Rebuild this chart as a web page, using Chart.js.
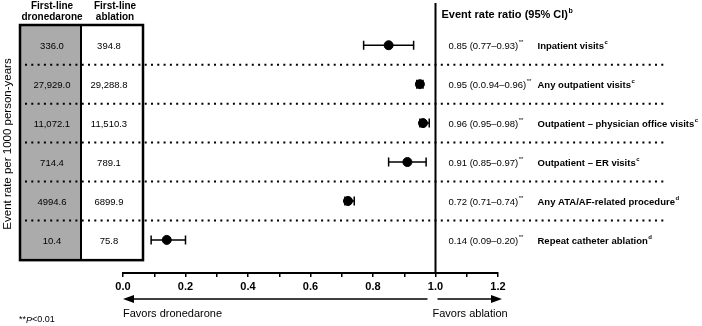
<!DOCTYPE html>
<html>
<head>
<meta charset="utf-8">
<script src="https://cdn.jsdelivr.net/npm/chart.js@4.4.1/dist/chart.umd.min.js"></script>
<style>
  html, body { margin: 0; padding: 0; background: #fff; }
  #chart { display: block; }
</style>
</head>
<body>
<canvas id="chart" width="702" height="326"></canvas>
<script>
// dados do forest plot
const categories = ['Inpatient visits', 'Any outpatient visits', 'Outpatient \u2013 physician office visits',
  'Outpatient \u2013 ER visits', 'Any ATA/AF-related procedure', 'Repeat catheter ablation'];
const superscripts = ['c', 'c', 'c', 'c', 'd', 'd'];
const dronedaroneRates = ['336.0', '27,929.0', '11,072.1', '714.4', '4994.6', '10.4'];
const ablationRates = ['394.8', '29,288.8', '11,510.3', '789.1', '6899.9', '75.8'];
const ratios = [0.85, 0.95, 0.96, 0.91, 0.72, 0.14];
const lowerCI = [0.77, 0.94, 0.95, 0.85, 0.71, 0.09];
const upperCI = [0.93, 0.96, 0.98, 0.97, 0.74, 0.20];
const ratioLabels = ['0.85 (0.77\u20130.93)**', '0.95 (0.0.94\u20130.96)**', '0.96 (0.95\u20130.98)**',
  '0.91 (0.85\u20130.97)**', '0.72 (0.71\u20130.74)**', '0.14 (0.09\u20130.20)**'];
const xTicks = ['0.0', '0.2', '0.4', '0.6', '0.8', '1.0', '1.2'];

const FONT = "'Liberation Sans', Arial, Helvetica, sans-serif";
const ROW_PAD = 0.52;

// texto com sobrescrito
function textSup(ctx, txt, sup, x, y, size, bold) {
  ctx.font = (bold ? 'bold ' : '') + size + 'px ' + FONT;
  ctx.fillText(txt, x, y);
  const w = ctx.measureText(txt).width;
  ctx.font = (bold ? 'bold ' : '') + Math.round(size * 0.62) + 'px ' + FONT;
  ctx.fillText(sup, x + w + 0.5, y - size * 0.4);
}

function arrow(ctx, x1, x2, y) {
  const dir = x2 > x1 ? 1 : -1;
  ctx.beginPath();
  ctx.moveTo(x1, y);
  ctx.lineTo(x2 - dir * 8, y);
  ctx.stroke();
  ctx.beginPath();
  ctx.moveTo(x2, y);
  ctx.lineTo(x2 - dir * 11, y - 4);
  ctx.lineTo(x2 - dir * 11, y + 4);
  ctx.closePath();
  ctx.fill();
}

const forestPlugin = {
  id: 'forest',
  beforeDatasetsDraw(chart) {
    const { ctx, chartArea, scales: { x, y } } = chart;
    const tLeft = 20, tMid = 81, tRight = x.getPixelForValue(0) + 20;
    const tTop = y.getPixelForValue(-ROW_PAD), tBottom = y.getPixelForValue(categories.length - 1 + ROW_PAD);
    ctx.save();
    // coluna cinza
    ctx.fillStyle = '#ababab';
    ctx.fillRect(tLeft, tTop, tMid - tLeft, tBottom - tTop);

    // linhas pontilhadas
    ctx.strokeStyle = '#000';
    ctx.lineWidth = 2;
    ctx.setLineDash([2, 4.3]);
    for (let i = 0; i < categories.length - 1; i++) {
      const yy = y.getPixelForValue(i + 0.5);
      ctx.beginPath();
      ctx.moveTo(tLeft + 5, yy);
      ctx.lineTo(666, yy);
      ctx.stroke();
    }
    ctx.setLineDash([]);

    // caixa da tabela
    ctx.lineWidth = 2.5;
    ctx.strokeRect(tLeft, tTop, tRight - tLeft, tBottom - tTop);
    ctx.lineWidth = 2;
    ctx.beginPath();
    ctx.moveTo(tMid, tTop);
    ctx.lineTo(tMid, tBottom);
    ctx.stroke();

    // linha de referencia em 1.0
    const x1 = x.getPixelForValue(1);
    ctx.beginPath();
    ctx.moveTo(x1, chartArea.top - 22);
    ctx.lineTo(x1, chartArea.bottom);
    ctx.stroke();

    // barras de erro
    ctx.lineWidth = 1.5;
    for (let i = 0; i < ratios.length; i++) {
      const yy = y.getPixelForValue(i);
      const a = x.getPixelForValue(lowerCI[i]), b = x.getPixelForValue(upperCI[i]);
      ctx.beginPath();
      ctx.moveTo(a, yy); ctx.lineTo(b, yy);
      ctx.moveTo(a, yy - 4.5); ctx.lineTo(a, yy + 4.5);
      ctx.moveTo(b, yy - 4.5); ctx.lineTo(b, yy + 4.5);
      ctx.stroke();
    }
    ctx.restore();
  },
  afterDraw(chart) {
    const { ctx, chartArea, scales: { x, y } } = chart;
    const x0 = x.getPixelForValue(0), x1 = x.getPixelForValue(1), x12 = x.getPixelForValue(1.2);
    ctx.save();
    ctx.fillStyle = '#000';
    ctx.textBaseline = 'middle';

    // cabecalhos da tabela
    ctx.textAlign = 'center';
    ctx.font = 'bold 10px ' + FONT;
    ctx.fillText('First-line', 52, 6);
    ctx.fillText('dronedarone', 52, 17);
    ctx.fillText('First-line', 115, 6);
    ctx.fillText('ablation', 115, 17);

    // valores da tabela
    ctx.font = '9.5px ' + FONT;
    for (let i = 0; i < categories.length; i++) {
      const yy = y.getPixelForValue(i) + 1;
      ctx.fillText(dronedaroneRates[i], 52, yy);
      ctx.fillText(ablationRates[i], 109, yy);
    }

    // razoes e rotulos
    ctx.textAlign = 'left';
    textSup(ctx, 'Event rate ratio (95% CI)', 'b', x1 + 6, 15, 11, true);
    for (let i = 0; i < categories.length; i++) {
      const yy = y.getPixelForValue(i) + 1;
      const lbl = ratioLabels[i];
      const sig = lbl.endsWith('**') ? '**' : '';
      textSup(ctx, lbl.slice(0, lbl.length - sig.length), sig, x1 + 13, yy, 9.5, false);
      textSup(ctx, categories[i], superscripts[i], x1 + 102, yy, 9.5, true);
    }

    // titulo do eixo y
    ctx.save();
    ctx.translate(8, 144);
    ctx.rotate(-Math.PI / 2);
    ctx.textAlign = 'center';
    ctx.font = '11.5px ' + FONT;
    ctx.fillText('Event rate per 1000 person-years', 0, 0);
    ctx.restore();

    // setas
    ctx.strokeStyle = '#000';
    ctx.lineWidth = 1.5;
    arrow(ctx, x1 - 8, x0, 299);
    arrow(ctx, x1 + 2, x12 + 4, 299);
    ctx.textAlign = 'left';
    ctx.font = '11px ' + FONT;
    ctx.fillText('Favors dronedarone', x0, 314);
    ctx.fillText('Favors ablation', x1 - 3, 314);

    // nota de rodape
    ctx.font = '9px ' + FONT;
    ctx.fillText('**', 19, 320);
    let w = ctx.measureText('**').width;
    ctx.font = 'italic 9px ' + FONT;
    ctx.fillText('P', 19 + w, 320);
    w += ctx.measureText('P').width;
    ctx.font = '9px ' + FONT;
    ctx.fillText('<0.01', 19 + w, 320);
    ctx.restore();
  }
};

new Chart(document.getElementById('chart').getContext('2d'), {
  type: 'scatter',
  data: {
    datasets: [{
      data: ratios.map((r, i) => ({ x: r, y: i })),
      backgroundColor: '#000',
      borderColor: '#000',
      pointRadius: 4.5,
      pointHoverRadius: 4.5
    }]
  },
  options: {
    responsive: false,
    animation: false,
    layout: { padding: { left: 123, right: 204, top: 25, bottom: 31 } },
    plugins: { legend: { display: false }, tooltip: { enabled: false } },
    scales: {
      x: {
        type: 'linear',
        min: 0,
        max: 1.2,
        afterFit(scale) { scale.height = 22; },
        border: { display: true, color: '#000', width: 2 },
        grid: { drawOnChartArea: false, drawTicks: true, tickLength: 4, color: '#000', lineWidth: 1.5 },
        ticks: {
          stepSize: 0.1,
          autoSkip: false,
          maxRotation: 0,
          color: '#000',
          font: { family: FONT, size: 11, weight: 'bold' },
          padding: 3,
          callback: v => {
            const s = (Math.round(v * 10) / 10).toFixed(1);
            return xTicks.includes(s) ? s : '';
          }
        }
      },
      y: {
        type: 'linear',
        display: false,
        reverse: true,
        min: -ROW_PAD,
        max: categories.length - 1 + 0.85
      }
    }
  },
  plugins: [forestPlugin]
});
</script>
</body>
</html>
